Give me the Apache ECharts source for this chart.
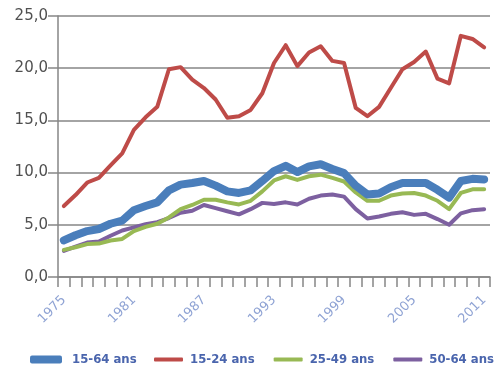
<!DOCTYPE html>
<html>
<head>
<meta charset="utf-8">
<script src="https://cdn.jsdelivr.net/npm/echarts@6/dist/echarts.min.js"></script>
<style>html,body{margin:0;padding:0;background:#fff}#c{width:500px;height:369px}</style>
</head>
<body>
<div id="c"></div>
<script>
var years = [];
for (var y = 1975; y <= 2011; y++) years.push(String(y));
var s1564 = [3.5,4.0,4.4,4.6,5.1,5.4,6.4,6.8,7.15,8.3,8.85,9.0,9.2,8.75,8.2,8.05,8.3,9.2,10.15,10.65,10.05,10.6,10.8,10.35,9.95,8.75,7.9,8.0,8.6,9.0,9.0,9.0,8.35,7.6,9.2,9.4,9.35];
var s1524 = [6.8,7.85,9.05,9.5,10.7,11.85,14.1,15.3,16.3,19.9,20.1,18.9,18.1,17.0,15.25,15.4,16.0,17.6,20.5,22.2,20.2,21.5,22.1,20.7,20.5,16.2,15.4,16.3,18.1,19.9,20.6,21.6,19.0,18.55,23.1,22.8,22.0];
var s2549 = [2.6,2.85,3.15,3.2,3.5,3.65,4.4,4.8,5.1,5.7,6.5,6.9,7.4,7.4,7.15,6.95,7.3,8.2,9.25,9.65,9.3,9.65,9.8,9.5,9.15,8.1,7.3,7.3,7.8,8.0,8.05,7.8,7.3,6.5,8.05,8.4,8.4];
var s5064 = [2.5,2.9,3.3,3.4,3.95,4.45,4.75,5.05,5.25,5.65,6.15,6.35,6.9,6.6,6.3,6.0,6.5,7.1,7.0,7.15,6.95,7.5,7.8,7.9,7.7,6.5,5.6,5.8,6.05,6.2,5.95,6.05,5.55,5.0,6.1,6.4,6.5];
var yTicks = [0,5,10,15,20,25];
var names = ['15-64 ans','15-24 ans','25-49 ans','50-64 ans'];
var colors = ['#4a7ebb','#be4b48','#98b954','#7d60a0'];

var chart = echarts.init(document.getElementById('c'));
function ser(i, data, w, z) {
  return {name: names[i], type:'line', data:data, symbol:'none', smooth:false, z:z,
    lineStyle:{color:colors[i], width:w, join:'round', cap:'round'}, itemStyle:{color:colors[i]}};
}
function legText(padLeft) {
  return {color:'#4a65ad', fontSize:13, fontWeight:'bold', fontFamily:'DejaVu Sans Condensed', padding:[0,0,0,padLeft]};
}
chart.setOption({
  animation:false,
  grid:{left:58, right:10, top:16, bottom:92, containLabel:false},
  legend:[
    {data:[names[0]], left:30, top:353, padding:0, width:120, icon:'roundRect', itemWidth:32, itemHeight:8, itemGap:0, textStyle:legText(5)},
    {data:[names[1],names[2],names[3]], left:154, top:353, padding:0, width:346, icon:'roundRect', itemWidth:29, itemHeight:4, itemGap:19, textStyle:legText(2)}
  ],
  xAxis:{type:'category', data:years, boundaryGap:true,
    axisLine:{lineStyle:{color:'#868686', width:1.5}},
    axisTick:{show:true, interval:0, length:10, lineStyle:{color:'#868686', width:1.5}},
    axisLabel:{interval:5, rotate:45, margin:21, color:'#8fa3d4', fontSize:13, fontFamily:'DejaVu Sans'}},
  yAxis:{type:'value', min:yTicks[0], max:yTicks[yTicks.length-1], interval:5,
    axisLine:{show:true, lineStyle:{color:'#868686', width:1.5}},
    axisTick:{show:true, length:10, lineStyle:{color:'#868686', width:1.5}},
    splitLine:{show:true, lineStyle:{color:'#868686', width:1.5}},
    axisLabel:{margin:10, color:'#505050', fontSize:15, fontFamily:'DejaVu Sans',
      formatter:function(v){return v.toFixed(1).replace('.',',');}}},
  series:[ser(0,s1564,8,4), ser(1,s1524,4,3), ser(2,s2549,4,2), ser(3,s5064,4,1)]
});
</script>
</body>
</html>
